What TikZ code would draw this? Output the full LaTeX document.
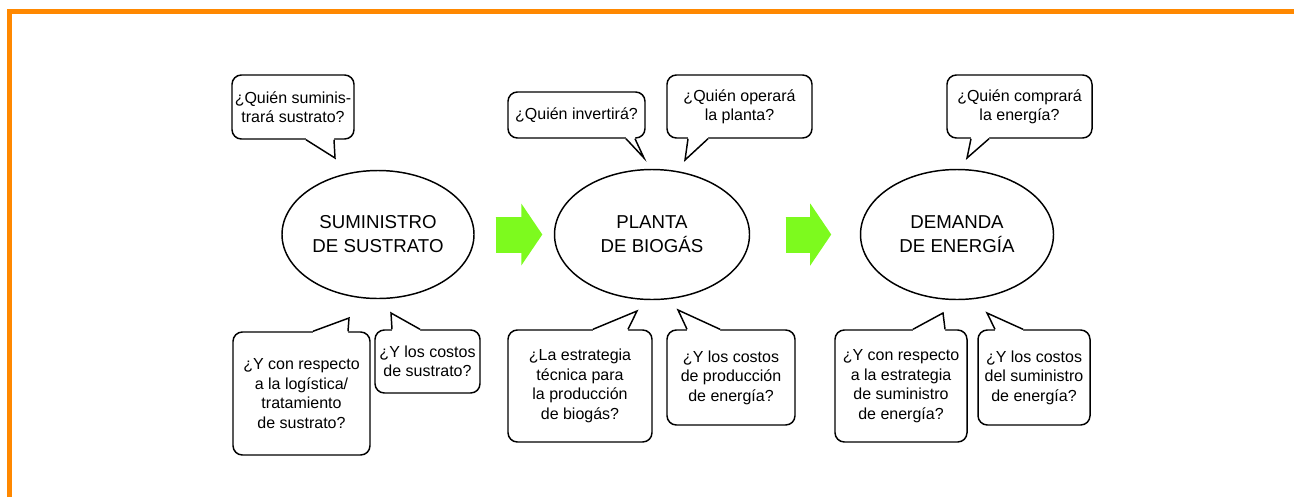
\documentclass[tikz,border=0pt]{standalone}
\usepackage{fontspec}
\setmainfont{Liberation Sans}
\usetikzlibrary{shapes.geometric,arrows.meta,calc}
\definecolor{frameorange}{RGB}{255,136,0}
\definecolor{flowgreen}{RGB}{125,250,30}
\tikzset{
  stage/.style={ellipse,draw,line width=1.1pt,inner sep=0pt,align=center,
    font=\fontsize{14}{18}\selectfont},
  bubble/.style={rectangle,rounded corners=7pt,draw,fill=white,line width=1.1pt,
    inner sep=0pt,align=center,font=\fontsize{12}{14.6}\selectfont},
  tailline/.style={line width=1.1pt,line join=miter},
  % #1 gap at the start, #2 gap at the tip
  flow/.style 2 args={line width=27pt,draw=flowgreen,
    shorten <=#1,shorten >=#2,
    preaction={-,draw=flowgreen,line width=27pt,shorten >=#2+13.5pt},
    -{Triangle[length=15.75pt,width=46.5pt,line width=0pt]}}
}
% tail of a speech bubble: base point, tip, base point, shift into the box
\newcommand{\bubbletail}[4]{%
  \fill[white] ($#1+#4$) -- #1 -- #2 -- #3 -- ($#3+#4$) -- cycle;
  \draw[tailline] #1 -- #2 -- #3;}
\begin{document}
\begin{tikzpicture}[x=0.75pt,y=-0.75pt]
  \useasboundingbox (0,0) rectangle (1294,497);
  \draw[frameorange,line width=3.75pt] (9.7,497) -- (9.7,11.5) -- (1294,11.5);

  % the three stages
  \node[stage,minimum width=144pt,minimum height=96pt] (supply) at (378,234.5)
    {SUMINISTRO\\DE SUSTRATO};
  \node[stage,minimum width=146.25pt,minimum height=97.5pt] (plant) at (652,234.5)
    {PLANTA\\DE BIOGÁS};
  \node[stage,minimum width=144.75pt,minimum height=97.5pt] (demand) at (957,234.5)
    {DEMANDA\\DE ENERGÍA};
  \draw[flow={15.75pt}{8.6pt}] (supply) -- (plant);
  \draw[flow={26.6pt}{21.4pt}] (plant) -- (demand);

  % questions above
  \node[bubble,minimum width=91.5pt,minimum height=48pt] (qsupplier) at (293,107)
    {¿Quién suminis-\\trará sustrato?};
  \node[bubble,minimum width=102.75pt,minimum height=34.5pt] (qinvest) at (576.5,115)
    {¿Quién invertirá?};
  \node[bubble,minimum width=108.75pt,minimum height=47.25pt] (qoperate) at (739.5,106.5)
    {¿Quién operará\\la planta?};
  \node[bubble,minimum width=108.75pt,minimum height=47.25pt] (qbuy) at (1019.5,106.5)
    {¿Quién comprará\\la energía?};
  \bubbletail{(306,0 |- qsupplier.south)}{(335,158)}{(334,0 |- qsupplier.south)}{(0,-2)}
  \bubbletail{(626,0 |- qinvest.south)}{(644,158)}{(635,0 |- qinvest.south)}{(0,-2)}
  \bubbletail{(688,0 |- qoperate.south)}{(685,160)}{(708,0 |- qoperate.south)}{(0,-2)}
  \bubbletail{(971,0 |- qbuy.south)}{(967,158)}{(989,0 |- qbuy.south)}{(0,-2)}

  % questions below
  \node[bubble,minimum width=102.75pt,minimum height=92.25pt] (qlogistics) at (301.5,393.5)
    {¿Y con respecto\\a la logística/\\tratamiento\\de sustrato?};
  \node[bubble,minimum width=78.75pt,minimum height=47.25pt] (qcostsub) at (427.5,361.5)
    {¿Y los costos\\de sustrato?};
  \node[bubble,minimum width=108pt,minimum height=84pt] (qtech) at (580,386)
    {¿La estrategia\\técnica para\\la producción\\de biogás?};
  \node[bubble,minimum width=96pt,minimum height=71.25pt] (qcostprod) at (731,377.5)
    {¿Y los costos\\de producción\\de energía?};
  \node[bubble,minimum width=99pt,minimum height=84pt] (qstrategy) at (901,386)
    {¿Y con respecto\\a la estrategia\\de suministro\\de energía?};
  \node[bubble,minimum width=84pt,minimum height=71.25pt] (qcostsupply) at (1034,377.5)
    {¿Y los costos\\del suministro\\de energía?};
  \bubbletail{(313,0 |- qlogistics.north)}{(349,318)}{(348,0 |- qlogistics.north)}{(0,2)}
  \bubbletail{(392,0 |- qcostsub.north)}{(391,313)}{(420,0 |- qcostsub.north)}{(0,2)}
  \bubbletail{(593,0 |- qtech.north)}{(637,311)}{(628,0 |- qtech.north)}{(0,2)}
  \bubbletail{(687,0 |- qcostprod.north)}{(678,310)}{(720,0 |- qcostprod.north)}{(0,2)}
  \bubbletail{(913,0 |- qstrategy.north)}{(943,313)}{(945,0 |- qstrategy.north)}{(0,2)}
  \bubbletail{(995,0 |- qcostsupply.north)}{(987,313)}{(1023,0 |- qcostsupply.north)}{(0,2)}
\end{tikzpicture}
\end{document}
